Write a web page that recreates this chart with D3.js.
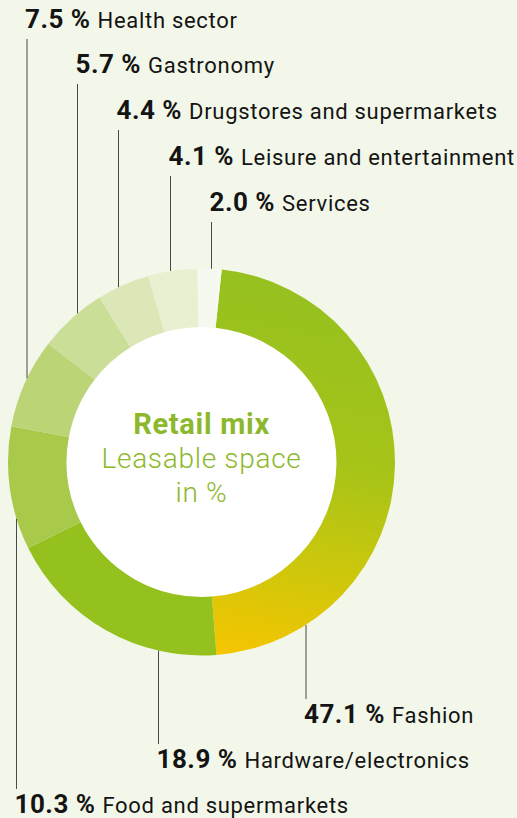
<!DOCTYPE html>
<html>
<head>
<meta charset="utf-8">
<script src="https://cdn.jsdelivr.net/npm/d3@7"></script>
<style>
  html, body { margin: 0; padding: 0; background: #f3f7e9; }
  svg { display: block; }
  text { font-family: Roboto, "DejaVu Sans", sans-serif; }
</style>
</head>
<body>
<svg id="chart" width="517" height="818"></svg>
<script>
// Retail mix by leasable space, in clockwise order starting with Fashion
const categories = ["Fashion", "Hardware/electronics", "Food and supermarkets", "Health sector",
  "Gastronomy", "Drugstores and supermarkets", "Leisure and entertainment", "Services"];
const shares = [47.1, 18.9, 10.3, 7.5, 5.7, 4.4, 4.1, 2.0];
const valueLabels = ["47.1 %", "18.9 %", "10.3 %", "7.5 %", "5.7 %", "4.4 %", "4.1 %", "2.0 %"];
const centerTitle = "Retail mix";
const centerSub = ["Leasable space", "in %"];

const W = 517, H = 818;
const cx = 201.5, cy = 462, rOuter = 193.5, rInner = 135;
const startDeg = 6;

const fills = ["url(#fashionGrad)", "#95c11f", "#a9c94b", "#bbd475", "#cbde97", "#dbe7b7", "#e8f0d1", "#f6f9ef"];

// Callout layout: leader line x, label baseline, and whether the label sits above or below the ring
const callouts = [
  { x: 306,   base: 723, side: "below" },
  { x: 158.5, base: 768, side: "below" },
  { x: 16.5,  base: 813, side: "below" },
  { x: 27,    base: 28,  side: "above" },
  { x: 77.5,  base: 73,  side: "above" },
  { x: 118.5, base: 119, side: "above" },
  { x: 170.5, base: 165, side: "above" },
  { x: 211.5, base: 211, side: "above" }
];

const svg = d3.select("#chart");
svg.append("rect").attr("width", W).attr("height", H).attr("fill", "#f3f7e9");

const g = svg.append("g").attr("transform", `translate(${cx},${cy})`);

// Fashion slice shades from green at the top to warm yellow at the bottom
// (coordinates relative to the ring centre)
const grad = svg.append("defs").append("linearGradient")
  .attr("id", "fashionGrad")
  .attr("gradientUnits", "userSpaceOnUse")
  .attr("x1", 90).attr("y1", -165).attr("x2", 20).attr("y2", 193);
[[0, "#97c11f"], [0.42, "#a6c418"], [0.72, "#cdc70c"], [1, "#f6c500"]].forEach(([o, c]) =>
  grad.append("stop").attr("offset", o).attr("stop-color", c));

const pie = d3.pie().sort(null).value(d => d)
  .startAngle(startDeg * Math.PI / 180)
  .endAngle((startDeg + 360) * Math.PI / 180);
const arc = d3.arc().innerRadius(rInner).outerRadius(rOuter);

// white centre disc
g.append("circle").attr("r", rInner).attr("fill", "#ffffff");

g.selectAll("path.slice")
  .data(pie(shares))
  .join("path")
  .attr("class", "slice")
  .attr("d", arc)
  .attr("fill", (d, i) => fills[i]);

// leader lines and labels
categories.forEach((name, i) => {
  const c = callouts[i];
  const dx = c.x - cx;
  const dy = Math.sqrt(rOuter * rOuter - dx * dx);
  const yRing = c.side === "above" ? cy - dy : cy + dy;
  const yEnd = c.side === "above" ? c.base + 11 : c.base - 24;
  svg.append("line")
    .attr("x1", c.x).attr("x2", c.x)
    .attr("y1", yEnd).attr("y2", yRing)
    .attr("stroke", "#4a4a44").attr("stroke-width", 1);

  const t = svg.append("text")
    .attr("x", c.x - 2).attr("y", c.base)
    .attr("fill", "#141414");
  t.append("tspan").attr("font-weight", 700).attr("font-size", 26)
    .attr("letter-spacing", 0.5).text(valueLabels[i]);
  t.append("tspan").attr("font-weight", 400).attr("font-size", 22)
    .attr("letter-spacing", 0.7).attr("dx", 7).text(name);
});

// centre text
const green = "#8cb82b";
svg.append("text")
  .attr("x", cx).attr("y", 434)
  .attr("text-anchor", "middle")
  .attr("font-weight", 700).attr("font-size", 29)
  .attr("letter-spacing", 0.7)
  .attr("fill", green)
  .text(centerTitle);
centerSub.forEach((s, i) => {
  svg.append("text")
    .attr("x", cx).attr("y", 468 + i * 34)
    .attr("text-anchor", "middle")
    .attr("font-weight", 300).attr("font-size", 28)
    .attr("letter-spacing", 0.7)
    .attr("fill", green)
    .text(s);
});
</script>
</body>
</html>
